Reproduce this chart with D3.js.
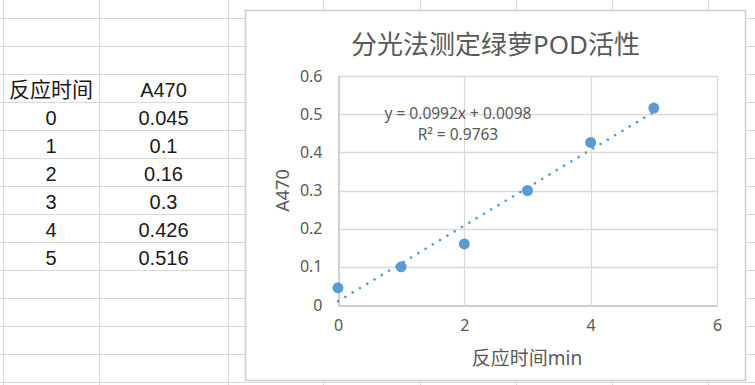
<!DOCTYPE html>
<html>
<head>
<meta charset="utf-8">
<script src="https://cdn.jsdelivr.net/npm/d3@7"></script>
<style>
body { margin: 0; background: #fff; }
svg { display: block; }
</style>
</head>
<body>
<svg id="sheet"></svg>
<script>
// data
var times = [0, 1, 2, 3, 4, 5];
var a470 = [0.045, 0.1, 0.16, 0.3, 0.426, 0.516];
var table_head = ["反应时间", "A470"];
var table_cells = ["0.045", "0.1", "0.16", "0.3", "0.426", "0.516"];
var x_ticks = [0, 2, 4, 6];
var y_ticks = [0, 0.1, 0.2, 0.3, 0.4, 0.5, 0.6];
var trend_slope = 0.0992;
var trend_intercept = 0.0098;
var eq_text = "y = 0.0992x + 0.0098";
var r2_text = "R² = 0.9763";
var chart_title = "分光法测定绿萝POD活性";

var canvas_width = 755;
var canvas_height = 385;
var col_lines = [3, 99, 228, 323, 420, 516, 612, 708];
var row_top = 18;
var row_height = 28;

let svg = d3.select("#sheet");
svg.attr("width", canvas_width).attr("height", canvas_height);

// spreadsheet grid
for (var i = 0; i < 14; i++) {
    svg.append("line")
        .attr("x1", 0).attr("x2", canvas_width)
        .attr("y1", row_top + i * row_height + 0.5)
        .attr("y2", row_top + i * row_height + 0.5)
        .attr("stroke", "#d8d8d8");
}
col_lines.forEach(function(cx) {
    svg.append("line")
        .attr("x1", cx + 0.5).attr("x2", cx + 0.5)
        .attr("y1", 0).attr("y2", canvas_height)
        .attr("stroke", "#d8d8d8");
});

// table cells, text sits at bottom of cell like Excel
var colA = (col_lines[0] + col_lines[1]) / 2;
var colB = (col_lines[1] + col_lines[2]) / 2;
var cell_font = "'Liberation Sans', 'Noto Sans CJK SC', sans-serif";

function cell_base(r) { return row_top + (r + 3) * row_height - 5; }

svg.append("text").attr("x", colA).attr("y", cell_base(0))
    .attr("text-anchor", "middle").style("font-family", cell_font)
    .style("font-size", "21px").attr("fill", "#1a1a1a").text(table_head[0]);
svg.append("text").attr("x", colB).attr("y", cell_base(0))
    .attr("text-anchor", "middle").style("font-family", cell_font)
    .style("font-size", "20px").attr("fill", "#1a1a1a").text(table_head[1]);

times.forEach(function(t, i) {
    svg.append("text").attr("x", colA).attr("y", cell_base(i + 1))
        .attr("text-anchor", "middle").style("font-family", cell_font)
        .style("font-size", "20px").attr("fill", "#1a1a1a").text(t);
    svg.append("text").attr("x", colB).attr("y", cell_base(i + 1))
        .attr("text-anchor", "middle").style("font-family", cell_font)
        .style("font-size", "20px").attr("fill", "#1a1a1a").text(table_cells[i]);
});

// chart box
svg.append("rect")
    .attr("x", 245.5).attr("y", 10.5)
    .attr("width", 500).attr("height", 370)
    .attr("fill", "#fff")
    .attr("stroke", "#cfcfcf")
    .attr("stroke-width", 1.6);

var chart_font = "'Noto Sans', 'Noto Sans CJK SC', sans-serif";
var text_grey = "#595959";

svg.append("text")
    .attr("x", 495.5).attr("y", 54)
    .attr("text-anchor", "middle")
    .style("font-family", chart_font)
    .style("font-size", "26px")
    .attr("fill", text_grey)
    .text(chart_title);

var x = d3.scaleLinear().domain([0, 6]).range([338, 717]);
var y = d3.scaleLinear().domain([0, 0.6]).range([305, 76]);

// gridlines
svg.selectAll(".hgrid")
    .data(y_ticks.filter(d => d > 0))
    .join("line")
    .attr("class", "hgrid")
    .attr("x1", x(0)).attr("x2", x(6))
    .attr("y1", d => Math.round(y(d)) + 0.5)
    .attr("y2", d => Math.round(y(d)) + 0.5)
    .attr("stroke", "#d9d9d9")
    .attr("stroke-width", 1.3);

svg.selectAll(".vgrid")
    .data(x_ticks.filter(d => d > 0))
    .join("line")
    .attr("class", "vgrid")
    .attr("x1", d => Math.round(x(d)) + 0.5)
    .attr("x2", d => Math.round(x(d)) + 0.5)
    .attr("y1", y(0.6)).attr("y2", y(0))
    .attr("stroke", "#d9d9d9")
    .attr("stroke-width", 1.3);

// axes
let xAxis = svg.append("g")
    .attr("transform", "translate(0," + (Math.round(y(0)) + 0.5) + ")")
    .call(d3.axisBottom(x).tickValues(x_ticks).tickSize(0).tickPadding(14)
        .tickFormat(d3.format("d")));
let yAxis = svg.append("g")
    .attr("transform", "translate(" + (Math.round(x(0)) + 0.5) + ",0)")
    .call(d3.axisLeft(y).tickValues(y_ticks).tickSize(0).tickPadding(16)
        .tickFormat(d => d === 0 ? "0" : d3.format(".1f")(d)));

[xAxis, yAxis].forEach(function(ax) {
    ax.select(".domain").attr("stroke", "#bfbfbf").attr("stroke-width", 1.5);
    ax.selectAll("text")
        .style("font-family", chart_font)
        .style("font-size", "16px")
        .attr("fill", text_grey);
});

// axis titles
svg.append("text")
    .attr("x", 527).attr("y", 365)
    .attr("text-anchor", "middle")
    .style("font-family", chart_font)
    .style("font-size", "19px")
    .attr("fill", text_grey)
    .text("反应时间min");

svg.append("text")
    .attr("transform", "translate(288.5,190.5) rotate(-90)")
    .attr("text-anchor", "middle")
    .style("font-family", chart_font)
    .style("font-size", "18px")
    .attr("fill", text_grey)
    .text("A470");

// linear trendline, dotted
var trend_x = [times[0], times[times.length - 1]];
svg.append("line")
    .attr("x1", x(trend_x[0]))
    .attr("y1", y(trend_slope * trend_x[0] + trend_intercept))
    .attr("x2", x(trend_x[1]))
    .attr("y2", y(trend_slope * trend_x[1] + trend_intercept))
    .attr("stroke", "#5b9bd5")
    .attr("stroke-width", 2.6)
    .attr("stroke-linecap", "round")
    .attr("stroke-dasharray", "0.1,8.4");

// points
svg.selectAll(".pt")
    .data(times)
    .join("circle")
    .attr("class", "pt")
    .attr("cx", (d, i) => x(d))
    .attr("cy", (d, i) => y(a470[i]))
    .attr("r", 5.5)
    .attr("fill", "#5b9bd5");

// trendline label
svg.append("text")
    .attr("x", 458).attr("y", 119)
    .attr("text-anchor", "middle")
    .style("font-family", chart_font)
    .style("font-size", "15.5px")
    .attr("fill", text_grey)
    .text(eq_text);
svg.append("text")
    .attr("x", 458).attr("y", 140)
    .attr("text-anchor", "middle")
    .style("font-family", chart_font)
    .style("font-size", "15.5px")
    .attr("fill", text_grey)
    .text(r2_text);
</script>
</body>
</html>
